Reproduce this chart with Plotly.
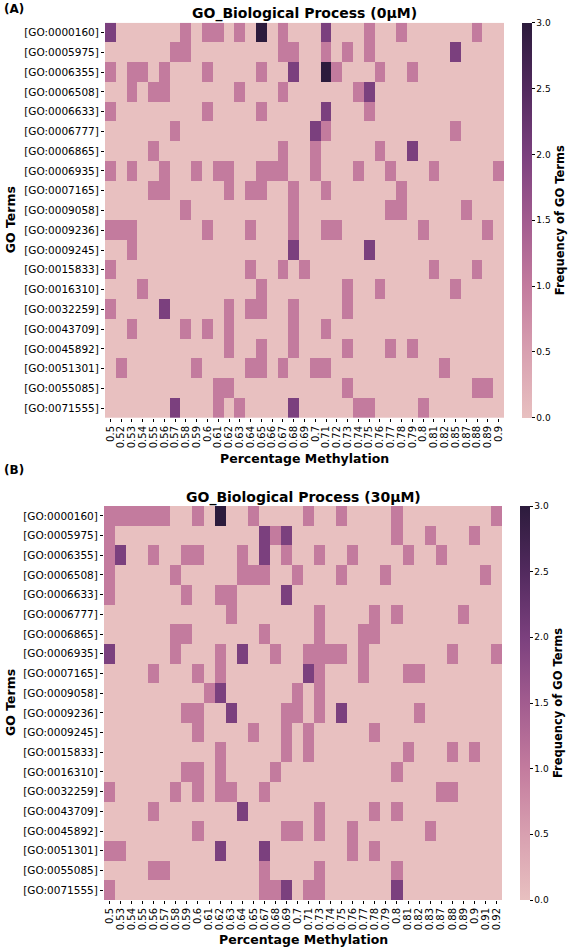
import numpy as np
import plotly.graph_objects as go

go_terms = ["[GO:0000160]", "[GO:0005975]", "[GO:0006355]", "[GO:0006508]", "[GO:0006633]",
            "[GO:0006777]", "[GO:0006865]", "[GO:0006935]", "[GO:0007165]", "[GO:0009058]",
            "[GO:0009236]", "[GO:0009245]", "[GO:0015833]", "[GO:0016310]", "[GO:0032259]",
            "[GO:0043709]", "[GO:0045892]", "[GO:0051301]", "[GO:0055085]", "[GO:0071555]"]

meth_0uM = ["0.5", "0.52", "0.53", "0.54", "0.55", "0.56", "0.57", "0.58", "0.59", "0.6",
            "0.61", "0.62", "0.63", "0.64", "0.65", "0.66", "0.67", "0.68", "0.69", "0.7",
            "0.71", "0.72", "0.73", "0.74", "0.75", "0.76", "0.77", "0.78", "0.79", "0.8",
            "0.81", "0.82", "0.85", "0.87", "0.88", "0.89", "0.9"]

meth_30uM = ["0.5", "0.53", "0.54", "0.55", "0.56", "0.57", "0.58", "0.59", "0.6", "0.61",
             "0.62", "0.63", "0.64", "0.65", "0.67", "0.68", "0.69", "0.7", "0.71", "0.73",
             "0.74", "0.75", "0.76", "0.77", "0.78", "0.79", "0.8", "0.81", "0.82", "0.83",
             "0.87", "0.88", "0.89", "0.9", "0.91", "0.92"]

freq_0uM = [
    [2,0,0,0,0,0,0,1,0,1, 1,0,1,0,3,0,1,0,0,0, 2,0,0,0,1,0,0,1,0,0, 0,0,0,0,1,0,0],
    [0,0,0,0,0,0,1,1,0,0, 0,0,0,0,0,0,1,1,0,0, 1,0,1,0,1,0,0,0,0,0, 0,0,2,0,0,0,0],
    [1,0,1,1,0,1,0,0,0,1, 0,0,0,0,1,0,0,2,0,0, 3,1,0,0,0,1,0,0,1,0, 0,0,0,0,0,0,0],
    [0,0,1,0,1,1,0,0,0,0, 0,0,1,0,0,0,1,0,0,0, 0,0,0,1,2,0,0,0,0,0, 0,0,0,0,0,0,0],
    [1,0,0,0,0,0,0,0,0,1, 0,0,0,0,1,0,0,0,0,0, 2,0,0,0,1,0,0,0,0,0, 0,0,0,0,0,0,0],
    [0,0,0,0,0,0,1,0,0,0, 0,0,0,0,0,0,0,0,0,2, 1,0,0,0,0,0,0,0,0,0, 0,0,1,0,0,0,0],
    [0,0,0,0,1,0,0,0,0,0, 0,0,0,0,0,0,1,0,0,1, 0,0,0,0,0,1,0,0,2,0, 0,0,0,0,0,0,0],
    [1,0,1,0,0,1,0,0,1,0, 1,1,0,0,1,1,1,0,0,1, 0,0,0,1,0,0,1,0,0,0, 1,0,0,0,0,0,1],
    [0,0,0,0,1,1,0,0,0,0, 0,1,0,1,1,0,0,1,0,0, 1,0,0,0,0,0,0,1,0,0, 0,0,0,0,0,0,0],
    [0,0,0,0,0,0,0,1,0,0, 0,0,0,0,0,0,0,1,0,0, 0,0,0,0,0,0,1,1,0,0, 0,0,0,1,0,0,0],
    [1,1,1,0,0,0,0,0,0,1, 0,0,0,1,0,0,0,1,0,0, 1,1,0,0,0,0,0,0,0,1, 0,0,0,0,0,1,0],
    [0,0,1,0,0,0,0,0,0,0, 0,0,0,0,0,0,0,2,0,0, 0,0,0,0,2,0,0,0,0,0, 0,0,0,0,0,0,0],
    [1,0,0,0,0,0,0,0,0,0, 0,0,0,1,0,0,1,0,1,0, 0,0,0,0,0,0,0,0,0,0, 1,0,0,0,1,0,0],
    [0,0,0,1,0,0,0,0,0,0, 0,0,0,0,1,0,0,0,0,0, 0,0,1,0,0,1,0,0,0,0, 0,0,1,0,0,0,0],
    [1,0,0,0,0,2,0,0,0,0, 0,1,0,1,1,0,0,1,0,0, 0,0,1,0,0,0,0,0,0,0, 0,0,0,0,0,0,0],
    [0,0,1,0,0,0,0,1,0,1, 0,1,0,0,0,0,0,1,0,0, 1,0,0,0,0,0,0,0,0,0, 0,0,0,0,0,0,0],
    [0,0,0,0,0,0,0,0,0,0, 0,1,0,0,1,0,0,1,0,0, 0,0,1,0,0,0,1,0,1,0, 0,0,0,0,0,0,0],
    [0,1,0,0,0,0,0,0,1,0, 0,0,0,1,1,0,1,0,0,1, 1,0,0,0,0,0,0,0,0,0, 0,1,0,0,0,0,0],
    [0,0,0,0,0,0,0,0,0,0, 1,1,0,0,0,0,0,0,0,0, 0,0,1,0,0,0,0,0,0,0, 0,0,0,0,1,1,0],
    [0,0,0,0,0,0,2,0,0,0, 1,0,1,0,0,0,0,2,0,0, 0,0,0,1,1,0,0,0,0,1, 0,0,0,0,0,0,0],
]

freq_30uM = [
    [1,1,1,1,1,1,0,0,1,0, 3,0,0,1,0,0,0,0,1,0, 0,1,0,0,0,0,1,0,0,0, 0,0,0,0,0,1],
    [1,0,0,0,0,0,0,0,0,0, 0,0,0,0,2,1,2,0,0,0, 0,0,0,0,0,0,1,0,0,1, 0,0,0,1,0,0],
    [1,2,0,0,1,0,0,1,1,0, 0,0,1,0,2,0,1,0,0,1, 0,0,1,0,0,0,0,1,0,0, 1,0,0,0,0,0],
    [1,0,0,0,0,0,1,0,0,0, 0,0,1,1,1,0,0,1,0,0, 0,1,0,0,0,1,0,0,0,0, 0,0,0,0,1,0],
    [1,0,0,0,0,0,0,1,0,0, 1,1,0,0,0,0,2,0,0,0, 0,0,0,0,0,0,0,0,0,0, 0,0,0,0,0,0],
    [0,0,0,0,0,0,0,0,0,0, 0,1,0,0,0,0,0,0,0,1, 0,0,0,0,1,0,1,0,0,0, 0,0,1,0,0,0],
    [0,0,0,0,0,0,1,1,0,0, 0,0,0,0,1,0,0,0,0,1, 0,0,0,1,1,0,0,0,0,0, 0,0,0,0,0,0],
    [2,0,0,0,0,0,1,0,0,0, 1,0,2,0,0,1,0,0,1,1, 1,1,0,1,0,0,0,0,0,0, 0,1,0,0,0,1],
    [0,0,0,0,1,0,0,0,1,0, 1,0,0,0,0,0,0,0,2,1, 0,0,0,1,0,0,0,1,1,0, 0,0,0,0,0,0],
    [0,0,0,0,0,0,0,0,0,1, 2,0,0,0,0,0,0,1,0,1, 0,0,0,0,0,0,0,0,0,0, 0,0,0,0,0,0],
    [0,0,0,0,0,0,0,1,1,0, 0,2,0,0,0,0,1,1,0,1, 0,2,0,0,0,0,0,0,1,0, 0,0,0,0,0,0],
    [0,0,0,0,0,0,0,0,1,0, 0,0,0,1,0,0,1,0,1,0, 0,0,0,0,1,0,0,0,0,0, 0,0,0,0,0,0],
    [0,0,0,0,0,0,0,0,0,0, 1,0,0,0,0,0,1,0,1,0, 0,0,0,0,0,0,0,1,0,0, 0,1,0,1,0,0],
    [0,0,0,0,0,0,0,1,1,0, 1,0,0,0,0,1,0,0,0,0, 0,0,0,0,0,0,1,0,0,0, 0,0,0,0,0,0],
    [1,0,0,0,0,0,1,0,1,0, 1,1,0,0,1,0,0,0,0,0, 0,0,0,0,0,0,0,0,0,0, 1,1,0,0,0,0],
    [0,0,0,0,1,0,0,0,0,0, 0,0,2,0,0,0,0,0,0,1, 0,0,0,0,1,0,1,0,0,0, 0,0,0,0,0,0],
    [0,0,0,0,0,0,0,0,1,0, 0,0,0,0,0,0,1,1,0,1, 0,0,1,0,0,0,0,0,0,1, 0,0,0,0,0,0],
    [1,1,0,0,0,0,0,0,0,0, 2,0,0,0,2,0,0,0,0,0, 0,0,1,0,1,0,0,0,0,0, 0,0,0,0,0,0],
    [0,0,0,0,1,1,0,0,0,0, 0,0,0,0,1,0,0,0,0,1, 0,0,0,0,0,0,1,0,0,0, 0,0,0,0,0,0],
    [1,0,0,0,0,0,0,0,0,0, 0,0,0,0,1,1,2,0,1,1, 0,0,0,0,0,0,2,0,0,0, 0,0,0,0,0,0],
]

cbar_ticks = [0.0, 0.5, 1.0, 1.5, 2.0, 2.5, 3.0]

# light pink -> dark purple (as seen in the figure)
cscale = [
    [0.0, "rgb(232,192,192)"],
    [1 / 6, "rgb(216,160,176)"],
    [1 / 3, "rgb(195,123,158)"],
    [1 / 2, "rgb(162,92,143)"],
    [2 / 3, "rgb(123,64,126)"],
    [5 / 6, "rgb(82,42,94)"],
    [1.0, "rgb(44,27,60)"],
]

W, H = 585, 947
FONT = "DejaVu Sans"


def fx(p):
    return p / W


def fy(p):
    return 1 - p / H


panels = [
    dict(z=freq_0uM, x=meth_0uM, x0=105, x1=504, y0=22.7, y1=418,
         title="GO_Biological Process (0µM)", tag="(A)", tag_y=9, title_y=13, xlab_y=458),
    dict(z=freq_30uM, x=meth_30uM, x0=104, x1=502, y0=506, y1=900,
         title="GO_Biological Process (30µM)", tag="(B)", tag_y=470, title_y=497, xlab_y=939),
]

fig = go.Figure()
annotations = []
for i, p in enumerate(panels):
    sfx = "" if i == 0 else str(i + 1)
    fig.add_trace(go.Heatmap(
        z=p["z"], x=p["x"], y=go_terms, xaxis="x" + sfx, yaxis="y" + sfx,
        colorscale=cscale, zmin=0, zmax=3, xgap=0, ygap=0,
        colorbar=dict(
            x=fx(p["x1"] + 18), xanchor="left", y=fy(p["y0"]), yanchor="top",
            len=(p["y1"] - p["y0"]) / H, lenmode="fraction", thickness=10,
            xpad=0, ypad=0, outlinewidth=0, ticks="outside", ticklen=3,
            tickcolor="#000", tickvals=cbar_ticks,
            ticktext=["%.1f" % t for t in cbar_ticks],
            tickfont=dict(family=FONT, size=9, color="#000"),
            title=dict(text="<b>Frequency of GO Terms</b>", side="right",
                       font=dict(family=FONT, size=11.5, color="#000")),
        ),
    ))
    ax = dict(domain=[fx(p["x0"]), fx(p["x1"])], type="category", tickangle=-90,
              tickmode="array", tickvals=p["x"], ticktext=p["x"],
              ticks="outside", ticklen=3, tickcolor="#000", showgrid=False, zeroline=False,
              showline=False, tickfont=dict(family=FONT, size=10, color="#000"),
              anchor="y" + sfx)
    ay = dict(domain=[fy(p["y1"]), fy(p["y0"])], type="category", autorange="reversed",
              tickmode="array", tickvals=go_terms, ticktext=go_terms,
              ticks="outside", ticklen=3, tickcolor="#000", showgrid=False, zeroline=False,
              showline=False, tickfont=dict(family=FONT, size=10.5, color="#000"),
              anchor="x" + sfx)
    fig.update_layout(**{"xaxis" + sfx: ax, "yaxis" + sfx: ay})
    cx = (p["x0"] + p["x1"]) / 2
    annotations += [
        dict(text="<b>%s</b>" % p["title"], x=fx(cx), y=fy(p["title_y"]), xref="paper", yref="paper",
             showarrow=False, xanchor="center", yanchor="middle",
             font=dict(family=FONT, size=14, color="#000")),
        dict(text="<b>%s</b>" % p["tag"], x=fx(2), y=fy(p["tag_y"]), xref="paper", yref="paper",
             showarrow=False, xanchor="left", yanchor="middle",
             font=dict(family=FONT, size=12, color="#000")),
        dict(text="<b>Percentage Methylation</b>", x=fx(cx), y=fy(p["xlab_y"]), xref="paper",
             yref="paper", showarrow=False, xanchor="center", yanchor="middle",
             font=dict(family=FONT, size=12.5, color="#000")),
        dict(text="<b>GO Terms</b>", x=fx(10), y=fy((p["y0"] + p["y1"]) / 2), xref="paper",
             yref="paper", showarrow=False, xanchor="center", yanchor="middle", textangle=-90,
             font=dict(family=FONT, size=12.5, color="#000")),
    ]

fig.update_layout(
    width=W, height=H, margin=dict(l=0, r=0, t=0, b=0),
    paper_bgcolor="white", plot_bgcolor="white",
    annotations=annotations, showlegend=False,
)
fig.write_html("out.html")
